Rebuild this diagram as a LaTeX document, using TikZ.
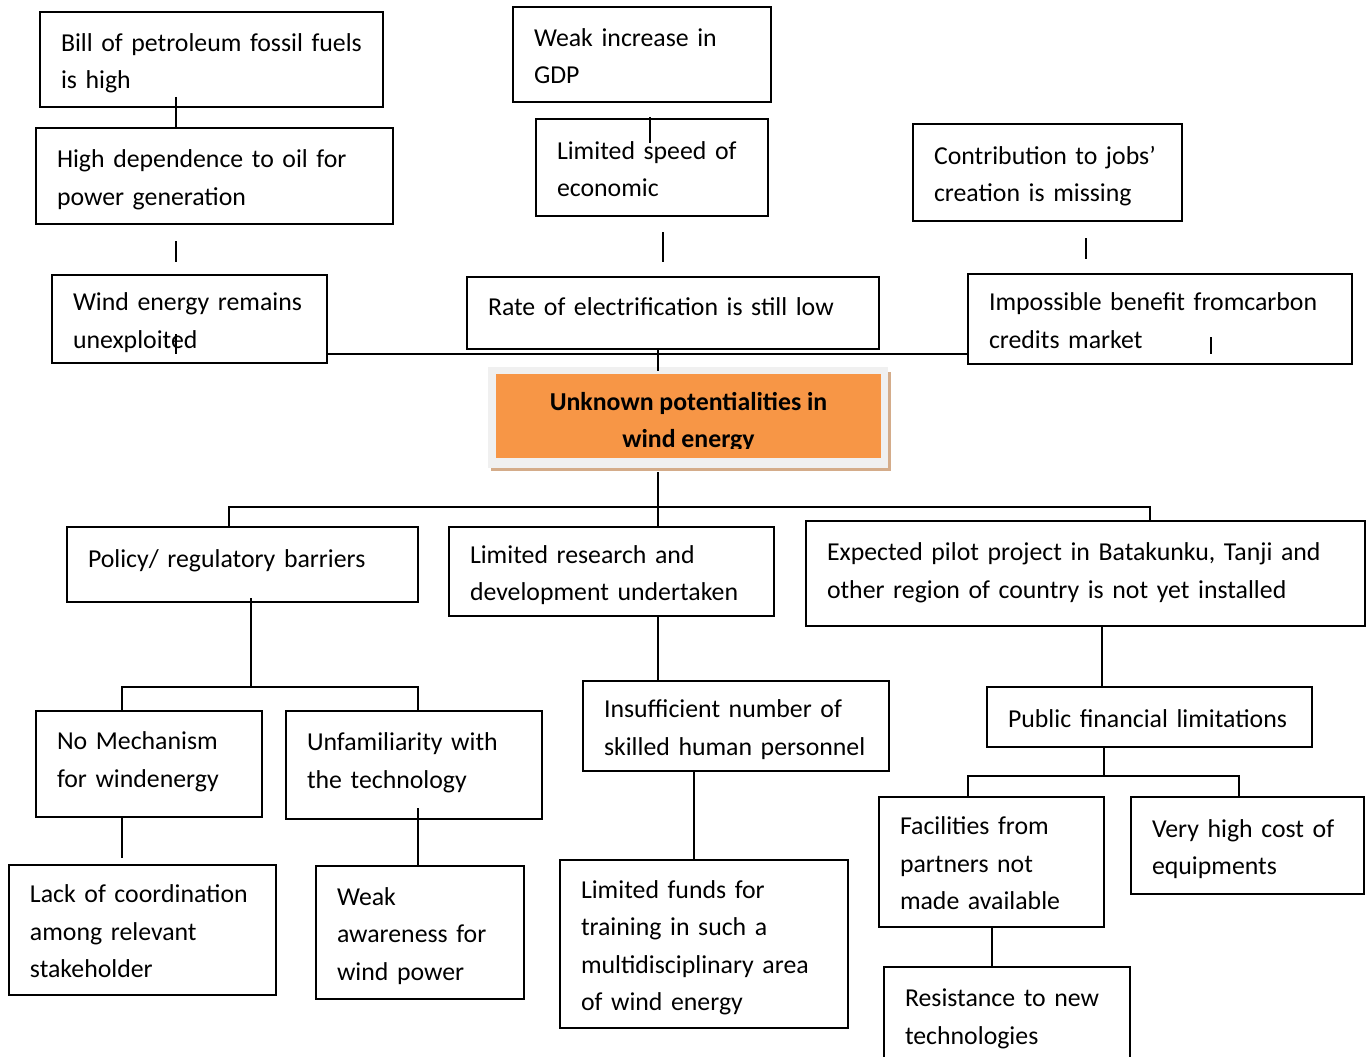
\documentclass[tikz,border=0pt]{standalone}
\usepackage{fontspec}
\setmainfont{Carlito}
\definecolor{coreorange}{RGB}{247,150,70}
\definecolor{framegray}{RGB}{240,240,240}
\definecolor{shadowtan}{RGB}{212,172,138}
% box text: left-aligned lines that never wrap
\newcommand\boxlines[1]{\begin{tabular}[t]{@{}l@{}}#1\end{tabular}}
\begin{document}
\begin{tikzpicture}[x=1pt,y=-1pt,
  cbox/.style={draw, line width=1.5pt, inner xsep=21pt, inner ysep=0pt, align=left,
    text height=32pt, font=\fontsize{25.8}{37.5}\selectfont},
  wire/.style={line width=1.5pt},
  coretext/.style={font=\fontsize{25.8}{37.5}\selectfont\bfseries, align=center,
    inner sep=0pt, text height=18pt, text depth=6pt}]
\useasboundingbox (0,0) rectangle (1369,1057);
\fill[white] (0,0) rectangle (1369,1057);

% ---- upper causes ----
\node[cbox, minimum width=343pt, minimum height=95pt, text width=301pt] (bill) at (211.5,59.5) {\boxlines{Bill of petroleum fossil fuels\\is high}};
\node[cbox, minimum width=357pt, minimum height=96pt, text width=315pt] (dep) at (214.5,176) {\boxlines{High dependence to oil for\\power generation}};
\node[cbox, minimum width=275pt, minimum height=88pt, text width=233pt] (wind) at (189.5,319) {\boxlines{Wind energy remains\\unexploited}};
\node[cbox, minimum width=258pt, minimum height=95pt, text width=216pt] (gdp) at (642,54.5) {\boxlines{Weak increase in\\GDP}};
\node[cbox, minimum width=232pt, minimum height=97pt, text width=190pt] (speed) at (652,167.5) {\boxlines{Limited speed of\\economic}};
\node[cbox, minimum width=412pt, minimum height=72pt, text width=370pt, text depth=27pt] (rate) at (673,313) {\boxlines{Rate of electrification is still low}};
\node[cbox, minimum width=269pt, minimum height=97pt, text width=227pt] (contrib) at (1047.5,172.5) {\boxlines{Contribution to jobs’\\creation is missing}};
\node[cbox, minimum width=384pt, minimum height=90pt, text width=342pt] (imp) at (1160,319) {\boxlines{Impossible benefit fromcarbon\\credits market}};

% ---- central problem ----
\fill[shadowtan] (491,372) rectangle (891,471);
\node[fill=framegray, minimum width=400pt, minimum height=101pt, inner sep=0pt] (core) at (688,417.5) {};
\fill[coreorange] (496,374) rectangle (881,458);
\begin{scope}
  \clip (496,374) rectangle (881,448);
  \node[coretext] (coretitle) at (688.5,441.5) {Unknown potentialities in\\wind energy};
\end{scope}

% ---- lower causes ----
\node[cbox, minimum width=351pt, minimum height=75pt, text width=309pt, text depth=27pt] (policy) at (242.5,564.5) {\boxlines{Policy/ regulatory barriers}};
\node[cbox, minimum width=325pt, minimum height=89pt, text width=283pt] (research) at (611.5,571.5) {\boxlines{Limited research and\\development undertaken}};
\node[cbox, minimum width=559pt, minimum height=105pt, text width=517pt, text depth=57.75pt] (pilot) at (1085.5,573.5) {\boxlines{Expected pilot project in Batakunku, Tanji and\\other region of country is not yet installed}};
\node[cbox, minimum width=226pt, minimum height=106pt, text width=184pt, text depth=60.75pt] (nomech) at (149,764) {\boxlines{No Mechanism\\for windenergy}};
\node[cbox, minimum width=256pt, minimum height=108pt, text width=214pt, text depth=60.75pt] (unfam) at (414,765) {\boxlines{Unfamiliarity with\\the technology}};
\node[cbox, minimum width=267pt, minimum height=130pt, text width=225pt] (lack) at (142.5,930) {\boxlines{Lack of coordination\\among relevant\\stakeholder}};
\node[cbox, minimum width=208pt, minimum height=133pt, text width=166pt] (weak) at (420,932.5) {\boxlines{Weak\\awareness for\\wind power}};
\node[cbox, minimum width=306pt, minimum height=90pt, text width=264pt] (insuff) at (736,726) {\boxlines{Insufficient number of\\skilled human personnel}};
\node[cbox, minimum width=288pt, minimum height=168pt, text width=246pt] (funds) at (704,944) {\boxlines{Limited funds for\\training in such a\\multidisciplinary area\\of wind energy}};
\node[cbox, minimum width=325pt, minimum height=60pt, text width=283pt] (public) at (1149.5,717) {\boxlines{Public financial limitations}};
\node[cbox, minimum width=225pt, minimum height=130pt, text width=183pt] (facil) at (991.5,862) {\boxlines{Facilities from\\partners not\\made available}};
\node[cbox, minimum width=233pt, minimum height=97pt, text width=191pt] (cost) at (1247.5,845.5) {\boxlines{Very high cost of\\equipments}};
\node[cbox, minimum width=246pt, minimum height=96pt, text width=204pt] (resist) at (1007,1015) {\boxlines{Resistance to new\\technologies}};

% ---- connectors, upper part ----
\coordinate (b1) at (176,97);
\draw[wire] (b1) -- (b1 |- dep.north);
\coordinate (s1) at (176,241); \coordinate (s2) at (176,262);
\draw[wire] (s1) -- (s2);
\coordinate (w1) at (176,334); \coordinate (w2) at (176,354);
\draw[wire] (w1) -- (w2);
\coordinate (g1) at (650,117); \coordinate (g2) at (650,143);
\draw[wire] (g1) -- (g2);
\coordinate (s3) at (663,232); \coordinate (s4) at (663,262);
\draw[wire] (s3) -- (s4);
\coordinate (c1) at (1086,238); \coordinate (c2) at (1086,259);
\draw[wire] (c1) -- (c2);
\coordinate (i1) at (1211,337); \coordinate (i2) at (1211,354);
\draw[wire] (i1) -- (i2);
\coordinate (hz) at (0,354);
\draw[wire] (wind.east |- hz) -- (imp.west |- hz);
\coordinate (rx) at (658,0);
\coordinate (coretop) at (658,371);
\draw[wire] (rate.south -| rx) -- (coretop);

% ---- connectors, lower part ----
\coordinate (corebot) at (658,472);
\draw[wire] (corebot) -- (research.north -| corebot);
\coordinate (pl) at (229,507); \coordinate (pr) at (1150,507);
\draw[wire] (policy.north -| pl) -- (pl) -- (pr) -- (pilot.north -| pr);
\coordinate (p1) at (251,598); \coordinate (p2) at (251,687);
\draw[wire] (p1) -- (p2);
\coordinate (q1) at (122,687); \coordinate (q2) at (418,687);
\draw[wire] (nomech.north -| q1) -- (q1) -- (q2) -- (unfam.north -| q2);
\coordinate (n1) at (122,858);
\draw[wire] (nomech.south -| n1) -- (n1);
\coordinate (u1) at (418,808);
\draw[wire] (u1) -- (weak.north -| u1);
\draw[wire] (research.south -| rx) -- (insuff.north -| rx);
\coordinate (fx) at (694,0);
\draw[wire] (insuff.south -| fx) -- (funds.north -| fx);
\coordinate (px) at (1102,0);
\draw[wire] (pilot.south -| px) -- (public.north -| px);
\coordinate (k1) at (1104,776); \coordinate (k2) at (968,776); \coordinate (k3) at (1239,776);
\draw[wire] (public.south -| k1) -- (k1);
\draw[wire] (facil.north -| k2) -- (k2) -- (k3) -- (cost.north -| k3);
\coordinate (rr) at (992,0);
\draw[wire] (facil.south -| rr) -- (resist.north -| rr);
\end{tikzpicture}
\end{document}
